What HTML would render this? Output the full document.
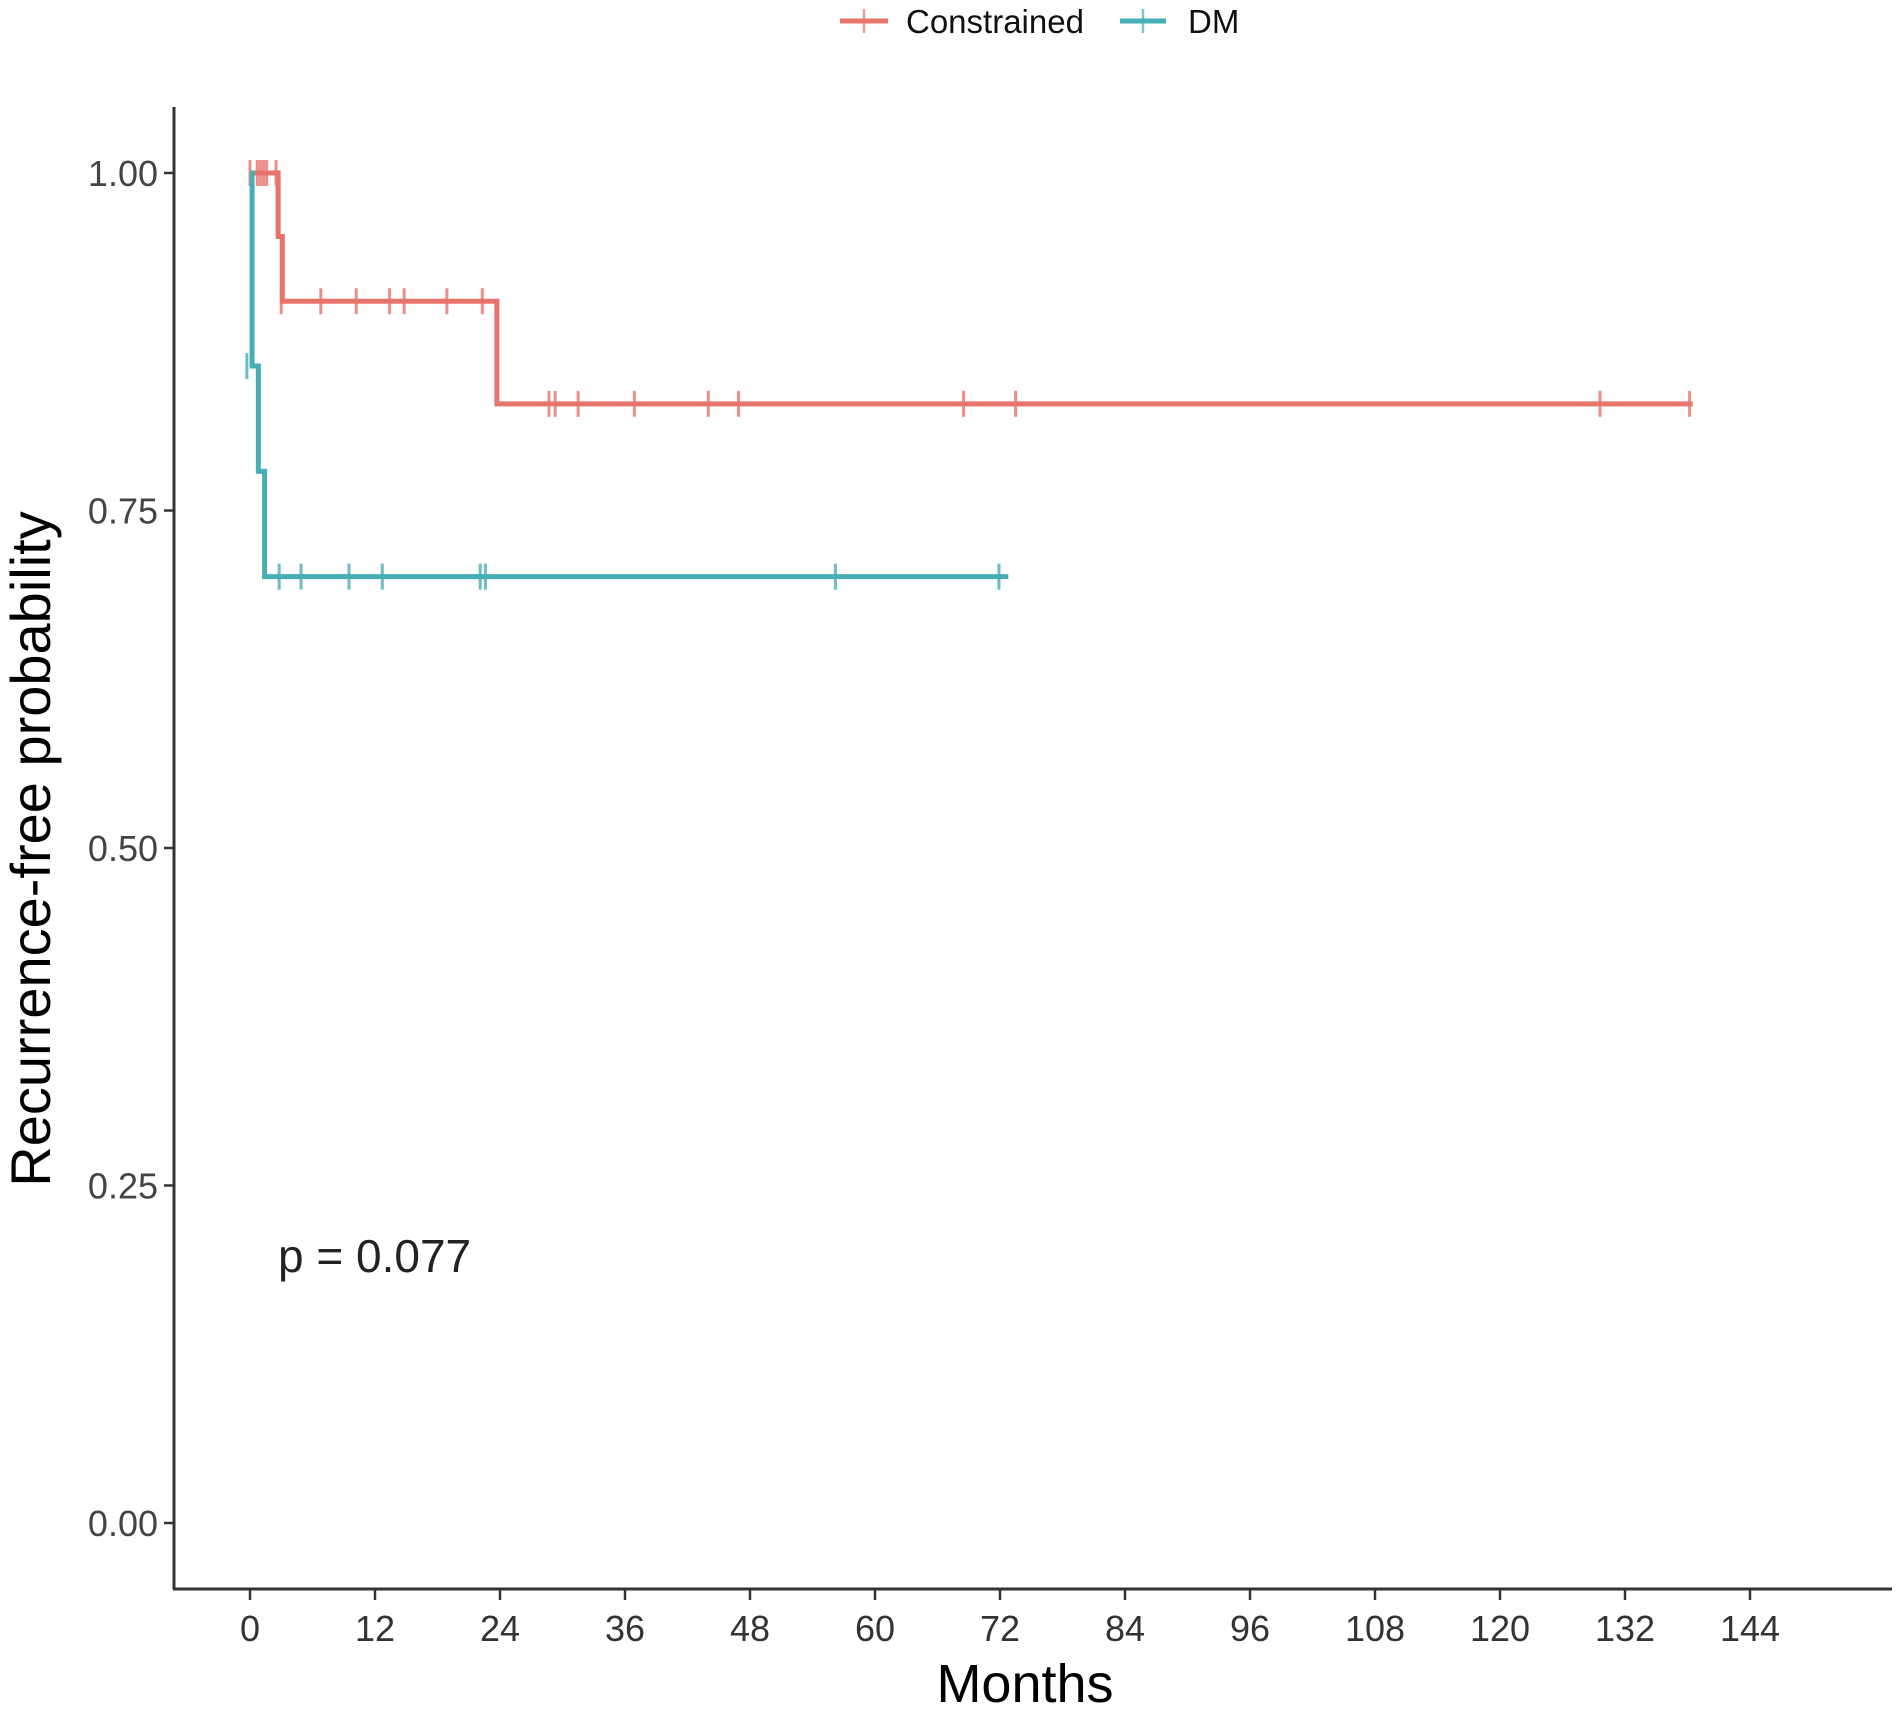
<!DOCTYPE html>
<html><head><meta charset="utf-8"><style>
html,body{margin:0;padding:0;background:#fff;}
svg{display:block;font-family:"Liberation Sans",sans-serif;}
</style></head><body>
<svg id="chart" width="1902" height="1725" viewBox="0 0 1902 1725">
<g id="legend">
 <g>
  <line x1="840" y1="21" x2="888" y2="21" stroke="#e8736b" stroke-width="5"/>
  <line x1="864" y1="9" x2="864" y2="33" stroke="#e8736b" stroke-width="2.5" opacity="0.7"/>
  <text x="906" y="33" font-size="33" fill="#111">Constrained</text>
 </g>
 <g>
  <line x1="1120" y1="21" x2="1166" y2="21" stroke="#45aeb6" stroke-width="5"/>
  <line x1="1143" y1="9" x2="1143" y2="33" stroke="#45aeb6" stroke-width="2.5" opacity="0.7"/>
  <text x="1188" y="33" font-size="33" fill="#111">DM</text>
 </g>
</g>
<g id="axes"></g>
<g id="series"></g>
<text x="278" y="1272" font-size="46" fill="#222">p = 0.077</text>
<text x="1025" y="1702" font-size="54" text-anchor="middle" fill="#000">Months</text>
<text transform="translate(50,849) rotate(-90)" font-size="56" text-anchor="middle" fill="#000">Recurrence-free probability</text>
</svg>
<script>
const xTicks = [0,12,24,36,48,60,72,84,96,108,120,132,144];
const yTicks = [0,0.25,0.5,0.75,1.0];
const yTickLabels = ["0.00","0.25","0.50","0.75","1.00"];
const conTimes = [0,2.7,3.1,23.7,138.5];
const conSurv = [1.0,0.953,0.905,0.829,0.829];
const conCensorT = [0,0.7,1,1.3,1.6,2.5,3.0,6.8,10.2,13.4,14.8,18.9,22.3,28.7,29.3,31.5,36.9,44,46.9,68.5,73.5,129.6,138.2];
const conCensorS = [1,1,1,1,1,1,0.905,0.905,0.905,0.905,0.905,0.905,0.905,0.829,0.829,0.829,0.829,0.829,0.829,0.829,0.829,0.829,0.829];
const dmTimes = [0,0.2,0.8,1.4,72.8];
const dmSurv = [1.0,0.857,0.779,0.701,0.701];
const dmCensorT = [-0.3,2.8,4.9,9.5,12.7,22.1,22.6,56.2,71.9];
const dmCensorS = [0.857,0.701,0.701,0.701,0.701,0.701,0.701,0.701,0.701];

const NS="http://www.w3.org/2000/svg";
const X = t => 250 + t*(1750-250)/144;
const Y = s => 1523 - s*(1523-173);
function mk(tag, attrs, parent){const e=document.createElementNS(NS,tag);for(const k in attrs)e.setAttribute(k,attrs[k]);parent.appendChild(e);return e;}
const axes=document.getElementById('axes');
let yl=mk('line',{x1:174,y1:107,x2:174,y2:1589,stroke:'#333','stroke-width':3},axes);


let xl=mk('line',{x1:173,y1:1589,x2:1892,y2:1589,stroke:'#333','stroke-width':3},axes);


xTicks.forEach(t=>{
 let l=mk('line',{x1:X(t),y1:1589,x2:X(t),y2:1600,stroke:'#333','stroke-width':2.5},axes);
 
 
 let tx=mk('text',{x:X(t),y:1641,'font-size':36,'text-anchor':'middle',fill:'#333'},axes);
 tx.textContent=t;
 
 
});
yTicks.forEach((v,i)=>{
 let l=mk('line',{x1:164,y1:Y(v),x2:174,y2:Y(v),stroke:'#333','stroke-width':2.5},axes);
 
 
 let tx=mk('text',{x:158,y:Y(v)+13,'font-size':36,'text-anchor':'end',fill:'#444'},axes);
 tx.textContent=yTickLabels[i];
 
 
});
const ser=document.getElementById('series');
function curve(times,surv,ct,cs,color,name){
 let d='M'+X(times[0])+','+Y(surv[0]);
 for(let i=1;i<times.length;i++){d+=' H'+X(times[i])+' V'+Y(surv[i]);}
 let p=mk('path',{d:d,fill:'none',stroke:color,'stroke-width':5},ser);
 
 
 ct.forEach((t,i)=>{
  let c=mk('line',{x1:X(t),y1:Y(cs[i])-13,x2:X(t),y2:Y(cs[i])+13,stroke:color,'stroke-width':3,opacity:0.8},ser);
  
  
 });
}
curve(conTimes,conSurv,conCensorT,conCensorS,'#e8736b','constrained');
curve(dmTimes,dmSurv,dmCensorT,dmCensorS,'#45aeb6','dm');
</script>
</body></html>
